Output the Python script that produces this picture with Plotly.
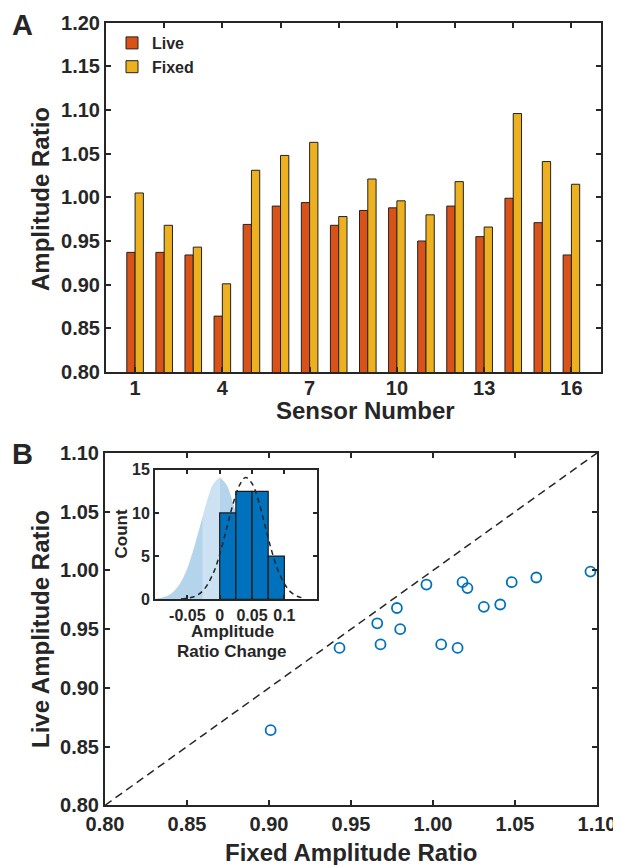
import plotly.graph_objects as go

# ---------------- data ----------------
sensors = list(range(1, 17))
live = [0.937, 0.937, 0.934, 0.864, 0.969, 0.990, 0.994, 0.968,
        0.985, 0.988, 0.950, 0.990, 0.955, 0.999, 0.971, 0.934]
fixed = [1.005, 0.968, 0.943, 0.901, 1.031, 1.048, 1.063, 0.978,
         1.021, 0.996, 0.980, 1.018, 0.966, 1.096, 1.041, 1.015]

a_xticks = [1, 4, 7, 10, 13, 16]
a_top_ticks = [2, 4, 6, 8, 10, 12, 14, 16]
a_yticks = [0.80, 0.85, 0.90, 0.95, 1.00, 1.05, 1.10, 1.15, 1.20]
b_ticks = [0.80, 0.85, 0.90, 0.95, 1.00, 1.05, 1.10]
unity = [0.80, 1.10]

# inset histogram of amplitude ratio change
hist_edges = [0.0, 0.025, 0.05, 0.075, 0.1]
hist_counts = [10, 12.5, 12.5, 5]
# dashed fitted curve
fit_x = [-0.06, -0.04, -0.025, -0.01, 0.0, 0.01, 0.02, 0.03, 0.04, 0.05,
         0.06, 0.07, 0.08, 0.09, 0.10, 0.11, 0.12, 0.13]
fit_y = [0.03, 0.3, 1.06, 3.0, 5.2, 8.0, 10.85, 13.1, 14.1, 13.4,
         11.4, 8.55, 5.7, 3.4, 1.8, 0.83, 0.35, 0.13]
# light-blue shaded curve
shade_x = [-0.10, -0.09, -0.08, -0.07, -0.06, -0.05, -0.04, -0.03, -0.026,
           -0.02, -0.01, 0.0, 0.01, 0.02, 0.03, 0.04, 0.05, 0.06, 0.07, 0.08]
shade_y = [0.06, 0.18, 0.45, 1.0, 2.0, 3.6, 5.9, 8.6, 9.7,
           11.3, 13.35, 14.1, 13.35, 11.3, 8.6, 5.9, 3.6, 2.0, 1.0, 0.45]
inset_xticks = [-0.05, 0, 0.05, 0.1]
inset_xticklabels = ["-0.05", "0", "0.05", "0.1"]
inset_yticks = [0, 5, 10, 15]

# ---------------- style ----------------
OFF = 8  # page body margin
W, H = 621 - OFF, 865 - OFF
FONT = "Liberation Sans, Arial, sans-serif"
INK = "#262626"
C_LIVE = "#D95319"
C_FIXED = "#EDB120"
C_BLUE = "#0072BD"
SHADE_OUT = "#B4D4EB"
SHADE_IN = "#CCE2F2"
INSET_XR = [-0.1, 0.15]


def px(x):
    return (x - OFF) / W


def py(y):
    return 1 - (y - OFF) / H


fig = go.Figure()

# ---------- panel A ----------
fig.add_trace(go.Bar(x=sensors, y=live, name="Live", marker=dict(color=C_LIVE, line=dict(color="#222222", width=1)),
                     xaxis="x", yaxis="y"))
fig.add_trace(go.Bar(x=sensors, y=fixed, name="Fixed", marker=dict(color=C_FIXED, line=dict(color="#222222", width=1)),
                     xaxis="x", yaxis="y"))
fig.add_trace(go.Scatter(x=[None], y=[None], xaxis="x4", yaxis="y", showlegend=False, hoverinfo="skip"))

# ---------- panel B ----------
fig.add_trace(go.Scatter(x=unity, y=unity, mode="lines", line=dict(color=INK, width=1.5, dash="8px,5px"),
                         xaxis="x2", yaxis="y2", showlegend=False))
fig.add_trace(go.Scatter(x=fixed, y=live, mode="markers",
                         marker=dict(symbol="circle-open", size=10, color=C_BLUE, line=dict(width=1.8, color=C_BLUE)),
                         xaxis="x2", yaxis="y2", showlegend=False))

# ---------- inset (three stacked layers: shade < bars < fit) ----------
seg_out_l = [(x, y) for x, y in zip(shade_x, shade_y) if x <= -0.026]
seg_in = [(x, y) for x, y in zip(shade_x, shade_y) if -0.026 <= x <= 0.0]
seg_out_r = [(x, y) for x, y in zip(shade_x, shade_y) if x >= 0.0]
for seg, col in [(seg_out_l, SHADE_OUT), (seg_in, SHADE_IN), (seg_out_r, SHADE_OUT)]:
    fig.add_trace(go.Scatter(x=[p[0] for p in seg], y=[p[1] for p in seg], mode="lines",
                             line=dict(width=0, shape="spline", color=col), fill="tozeroy", fillcolor=col,
                             xaxis="x3", yaxis="y3", showlegend=False, hoverinfo="skip"))

centers = [(a + b) / 2 for a, b in zip(hist_edges[:-1], hist_edges[1:])]
widths = [b - a for a, b in zip(hist_edges[:-1], hist_edges[1:])]
fig.add_trace(go.Bar(x=centers, y=hist_counts, width=widths,
                     marker=dict(color=C_BLUE, line=dict(color="#1a1a1a", width=1.2)),
                     xaxis="x5", yaxis="y3", showlegend=False))
fig.add_trace(go.Scatter(x=fit_x, y=fit_y, mode="lines", line=dict(color=INK, width=1.5, dash="5px,4px", shape="spline"),
                         xaxis="x6", yaxis="y3", showlegend=False))

# ---------- axes ----------
tick20 = dict(family=FONT, size=20, color=INK, weight="bold")
tick16 = dict(family=FONT, size=16, color=INK, weight="bold")
common = dict(showgrid=False, zeroline=False, showline=True, linecolor=INK, linewidth=2,
              ticks="inside", tickcolor=INK, tickwidth=1.5, automargin=False)
hidden = dict(showgrid=False, zeroline=False, showline=False, showticklabels=False, ticks="",
              automargin=False)

fig.update_layout(
    template="none",
    width=W, height=H,
    margin=dict(l=0, r=0, t=0, b=0, pad=0),
    paper_bgcolor="white", plot_bgcolor="white",
    barmode="group", bargap=0.43, bargroupgap=0.0,
    font=dict(family=FONT, color=INK),
    xaxis=dict(domain=[px(106), px(600.5)], range=[0, 17], tickvals=a_xticks, anchor="y",
               mirror=True, ticklen=5, tickfont=tick20, ticklabelstandoff=-3, **common),
    yaxis=dict(domain=[py(372), py(22.7)], range=[0.8, 1.2], tickvals=a_yticks, tickformat=".2f",
               anchor="x", mirror="ticks", ticklen=5, tickfont=tick20, **common),
    xaxis4=dict(overlaying="x", side="top", anchor="y", range=[0, 17], tickvals=a_top_ticks,
                showticklabels=False, showgrid=False, zeroline=False, showline=False, automargin=False,
                ticks="inside", ticklen=5, tickcolor=INK, tickwidth=1.5),
    xaxis2=dict(domain=[px(105), px(597)], range=[0.8, 1.1], tickvals=b_ticks, tickformat=".2f", anchor="y2",
                mirror="ticks", ticklen=5, tickfont=tick20, **common),
    yaxis2=dict(domain=[py(805.3), py(453)], range=[0.8, 1.1], tickvals=b_ticks, tickformat=".2f", anchor="x2",
                mirror="ticks", ticklen=5, tickfont=tick20, **common),
    xaxis3=dict(domain=[px(155), px(316.7)], range=INSET_XR, tickvals=inset_xticks, ticktext=inset_xticklabels,
                anchor="y3", mirror="ticks", ticklen=4, tickfont=tick16, layer="above traces", **common),
    yaxis3=dict(domain=[py(599.3), py(469.7)], range=[0, 15], tickvals=inset_yticks, anchor="x3",
                mirror="ticks", ticklen=4, tickfont=tick16, layer="above traces", **common),
    xaxis5=dict(overlaying="x3", anchor="y3", range=INSET_XR, **hidden),
    xaxis6=dict(overlaying="x3", anchor="y3", range=INSET_XR, **hidden),
    legend=dict(x=px(112), y=py(26), xanchor="left", yanchor="top", bgcolor="rgba(0,0,0,0)",
                font=dict(family=FONT, size=16, color=INK, weight="bold"), tracegroupgap=0),
    showlegend=True,
)


def ann(text, x, y, size, angle=0):
    fig.add_annotation(text=text, x=px(x), y=py(y), xref="paper", yref="paper", showarrow=False,
                       xanchor="center", yanchor="middle", textangle=angle,
                       font=dict(family=FONT, size=size, color=INK, weight="bold"))


ann("A", 22, 25, 29)
ann("B", 22.5, 454, 29)
ann("Amplitude Ratio", 40, 199, 24, -90)
ann("Sensor Number", 365, 410, 24)
ann("Live Amplitude Ratio", 40, 629, 24, -90)
ann("Fixed Amplitude Ratio", 351, 852, 24)
ann("Count", 121, 534.5, 17, -90)
ann("Amplitude", 232, 631, 17)
ann("Ratio Change", 232, 651, 17)

fig.write_html("out.html")
